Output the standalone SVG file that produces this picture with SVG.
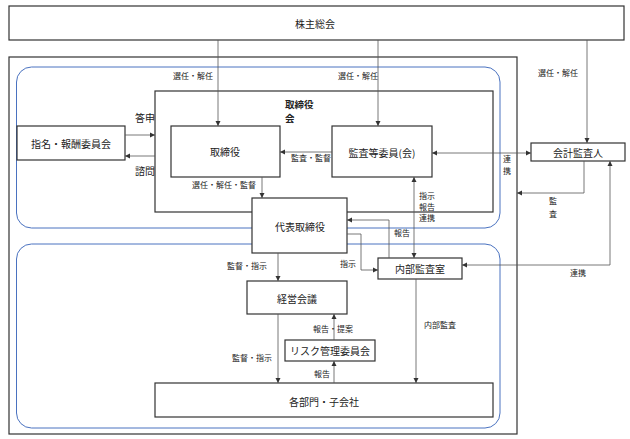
<svg xmlns="http://www.w3.org/2000/svg" width="630" height="439" viewBox="0 0 630 439">
<defs>
<marker id="ah" markerUnits="userSpaceOnUse" markerWidth="6" markerHeight="6" refX="5" refY="3" orient="auto-start-reverse">
<path d="M0,0.5 L5,3 L0,5.5 z" fill="#333"/>
</marker>
<style>
text{font-family:"Noto Sans CJK JP","Noto Sans CJK SC",sans-serif;fill:#222;}
.n{font-size:10px;text-anchor:middle;dominant-baseline:central;}
.l{font-size:8px;text-anchor:middle;dominant-baseline:central;}
.box{fill:#fff;stroke:#333;stroke-width:1.2;}
.frame{fill:none;stroke:#333;stroke-width:1.2;}
.blue{fill:none;stroke:#4a72c0;stroke-width:1;}
.c{fill:none;stroke:#555;stroke-width:0.8;}
</style>
</defs>
<rect width="630" height="439" fill="#fff"/>

<g id="frames">
<rect class="frame" x="9" y="57" width="508" height="377"/>
<rect class="blue" x="16.5" y="67" width="483.5" height="161" rx="15"/>
<rect class="blue" x="16.5" y="244" width="483.5" height="184" rx="15"/>
</g>

<g id="board">
<rect class="frame" x="155" y="91" width="338" height="121" fill="#fff"/>
<text x="285" y="104" font-size="9.5" font-weight="bold" dominant-baseline="central">取締役</text>
<text x="285" y="118" font-size="9.5" font-weight="bold" dominant-baseline="central">会</text>
</g>

<g id="shareholders">
<rect class="box" x="9" y="6" width="615" height="34"/>
<text class="n" x="315" y="23">株主総会</text>
</g>

<g id="nomination">
<rect class="box" x="17" y="126" width="108" height="34"/>
<text class="n" x="71" y="143">指名・報酬委員会</text>
</g>

<g id="directors">
<rect class="box" x="171" y="126" width="109" height="51"/>
<text class="n" x="225" y="151">取締役</text>
</g>

<g id="audit-committee">
<rect class="box" x="332" y="126" width="100" height="51"/>
<text class="n" x="382" y="152">監査等委員(会)</text>
</g>

<g id="representative">
<rect class="box" x="252" y="198" width="95" height="55"/>
<text class="n" x="300" y="226">代表取締役</text>
</g>

<g id="internal-audit">
<rect class="box" x="378" y="258" width="84" height="21"/>
<text class="n" x="420" y="268.5">内部監査室</text>
</g>

<g id="management">
<rect class="box" x="247" y="281" width="100" height="33"/>
<text class="n" x="297" y="298">経営会議</text>
</g>

<g id="risk">
<rect class="box" x="285" y="340" width="90" height="21"/>
<text class="n" x="330" y="350.5">リスク管理委員会</text>
</g>

<g id="departments">
<rect class="box" x="155" y="383" width="338" height="34"/>
<text class="n" x="324" y="401">各部門・子会社</text>
</g>

<g id="auditor">
<rect class="box" x="531" y="143" width="94" height="18"/>
<text class="n" x="578" y="152">会計監査人</text>
</g>

<g id="connectors">
<path class="c" d="M218,40 V126" marker-end="url(#ah)"/>
<path class="c" d="M378,40 V126" marker-end="url(#ah)"/>
<path class="c" d="M587,40 V143" marker-end="url(#ah)"/>
<path class="c" d="M125,135 H155" marker-end="url(#ah)"/>
<path class="c" d="M155,156 H125" marker-end="url(#ah)"/>
<path class="c" d="M332,152 H280" marker-end="url(#ah)"/>
<path class="c" d="M262,177 V198" marker-end="url(#ah)"/>
<path class="c" d="M432,153 H531" marker-start="url(#ah)" marker-end="url(#ah)"/>
<path class="c" d="M414,177 V258" marker-start="url(#ah)" marker-end="url(#ah)"/>
<path class="c" d="M584,161 V193 H517" marker-end="url(#ah)"/>
<path class="c" d="M462,265 H610 V161" marker-start="url(#ah)" marker-end="url(#ah)"/>
<path class="c" d="M347,234 H361 V270 H378" marker-end="url(#ah)"/>
<path class="c" d="M389,258 V220 H347" marker-end="url(#ah)"/>
<path class="c" d="M278,253 V281" marker-end="url(#ah)"/>
<path class="c" d="M278,314 V383" marker-end="url(#ah)"/>
<path class="c" d="M334,340 V314" marker-end="url(#ah)"/>
<path class="c" d="M334,383 V361" marker-end="url(#ah)"/>
<path class="c" d="M416,279 V383" marker-end="url(#ah)"/>
</g>

<g id="labels">
<text class="l" x="193" y="75">選任・解任</text>
<text class="l" x="358" y="75">選任・解任</text>
<text class="l" x="558" y="72">選任・解任</text>
<text class="n" x="145" y="117" font-size="9">答申</text>
<text class="n" x="145" y="170" font-size="9">諮問</text>
<text class="l" x="311" y="157">監査・監督</text>
<text class="l" x="224" y="184">選任・解任・監督</text>
<text class="l" x="427" y="195">指示</text>
<text class="l" x="427" y="206">報告</text>
<text class="l" x="427" y="217">連携</text>
<text class="l" x="507" y="158">連</text>
<text class="l" x="507" y="170">携</text>
<text class="l" x="553" y="200">監</text>
<text class="l" x="553" y="213">査</text>
<text class="l" x="402" y="232">報告</text>
<text class="l" x="348" y="263">指示</text>
<text class="l" x="578" y="272">連携</text>
<text class="l" x="247" y="265">監督・指示</text>
<text class="l" x="252" y="357">監督・指示</text>
<text class="l" x="333" y="328">報告・提案</text>
<text class="l" x="322" y="373">報告</text>
<text class="l" x="440" y="324">内部監査</text>
</g>
</svg>
